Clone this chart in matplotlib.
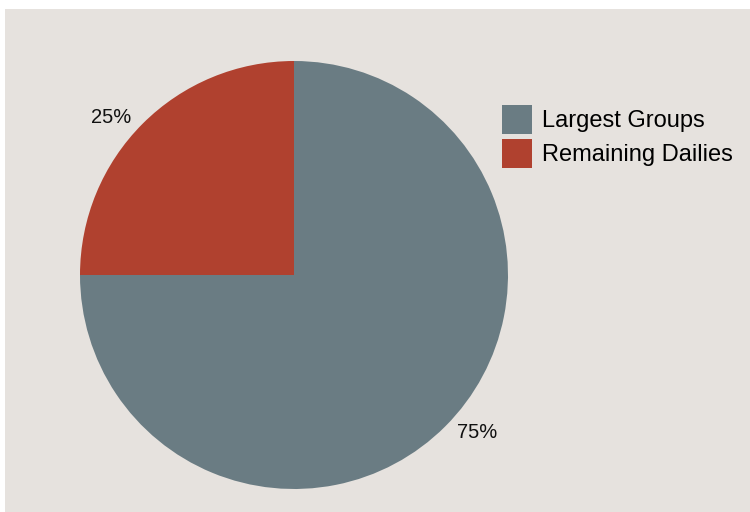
import matplotlib
matplotlib.use("Agg")
import numpy as np
import matplotlib.pyplot as plt
from matplotlib.patches import Rectangle, Patch

plt.rcParams["font.family"] = ["Liberation Sans", "DejaVu Sans"]

labels = ["Largest Groups", "Remaining Dailies"]
shares = [75, 25]
colors = ["#6a7c83", "#b0412f"]

BG = "#e6e2de"

fig = plt.figure(figsize=(7.5, 5.12), dpi=100)
fig.patch.set_facecolor("white")
fig.patches.append(Rectangle((5 / 750, 0), 1, (512 - 9) / 512, transform=fig.transFigure,
                             facecolor=BG, edgecolor="none", zorder=-10))

ax = fig.add_axes([80 / 750, (512 - 489) / 512, 428 / 750, 428 / 512])
ax.set_facecolor("none")
wedges, texts, autotexts = ax.pie(
    shares,
    colors=colors,
    startangle=90,
    counterclock=False,
    radius=1.0,
    autopct="%d%%",
    pctdistance=1.125,
    wedgeprops={"linewidth": 0},
    textprops={"fontsize": 14.5, "color": "#111111"},
)

# pull the percentage labels a little toward the horizontal
for w, t in zip(wedges, autotexts):
    mid = np.deg2rad((w.theta1 + w.theta2) / 2)
    tilt = np.deg2rad(4.3) * (-np.sign(np.sin(mid) * np.cos(mid)))
    ang = mid + tilt
    t.set_position((1.126 * np.cos(ang), 1.126 * np.sin(ang)))

ax.set_xlim(-1, 1)
ax.set_ylim(-1, 1)
ax.set_aspect("equal")
ax.axis("off")

handles = [Patch(facecolor=c, edgecolor="none") for c in colors]
fig.legend(
    handles, labels,
    loc="upper left",
    bbox_to_anchor=(497 / 750, 1 - 100 / 512),
    frameon=False,
    fontsize=17,
    handlelength=1.27,
    handleheight=1.5,
    handletextpad=0.42,
    labelspacing=0.23,
    borderpad=0.2,
    borderaxespad=0,
)

fig.savefig("out.png", dpi=100, facecolor=fig.get_facecolor())
